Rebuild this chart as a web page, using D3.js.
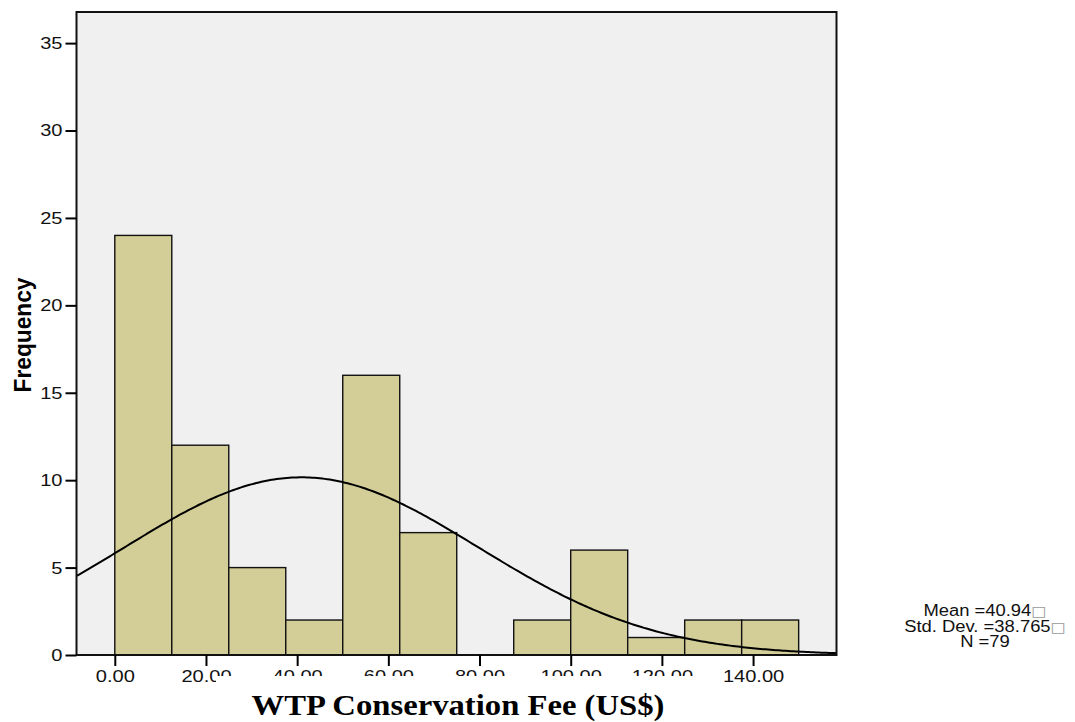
<!DOCTYPE html>
<html>
<head>
<meta charset="utf-8">
<script src="https://cdn.jsdelivr.net/npm/d3@7"></script>
<style>
  html, body { margin: 0; padding: 0; background: #fff; }
  svg { display: block; }
</style>
</head>
<body>
<div id="graf"></div>
<script>
// histogram bins (width 12.5)
const binStarts = [0, 12.5, 25, 37.5, 50, 62.5, 75, 87.5, 100, 112.5, 125, 137.5]
const counts = [24, 12, 5, 2, 16, 7, 0, 2, 6, 1, 2, 2]
const binWidth = 12.5

// summary stats shown in the legend
const mean = 40.94
const stdDev = 38.765
const n = 79

const xTicks = [0, 20, 40, 60, 80, 100, 120, 140]
const yTicks = [0, 5, 10, 15, 20, 25, 30, 35]
const statLines = ["Mean =40.94", "Std. Dev. =38.765", "N =79"]

const width = 1075
const height = 722
const margin = {top: 12, right: 238.5, bottom: 67, left: 76.5}

const data = binStarts.map((s, i) => ({x0: s, x1: s + binWidth, count: counts[i]}))

const x = d3.scaleLinear()
    .domain([-8.4, 158.3])
    .range([margin.left, width - margin.right])

const y = d3.scaleLinear()
    .domain([0, 36.78])
    .range([height - margin.bottom, margin.top])

const svg = d3.create("svg")
    .attr("width", width)
    .attr("height", height)
    .attr("viewBox", [0, 0, width, height])

// the source picture is a bit wider than tall, so the texts look stretched
const stretch = (sel, k) => sel.each(function() {
  const w = this.getComputedTextLength()
  d3.select(this).attr("textLength", w * k).attr("lengthAdjust", "spacingAndGlyphs")
})

// plot background
svg.append("rect")
    .attr("x", margin.left)
    .attr("y", margin.top)
    .attr("width", x.range()[1] - x.range()[0])
    .attr("height", y.range()[0] - y.range()[1])
    .attr("fill", "#f0f0f0")

svg.append("clipPath")
    .attr("id", "plot-clip")
  .append("rect")
    .attr("x", margin.left)
    .attr("y", margin.top)
    .attr("width", x.range()[1] - x.range()[0])
    .attr("height", y.range()[0] - y.range()[1])

// bars
svg.append("g")
  .selectAll("rect")
  .data(data.filter(d => d.count > 0))
  .join("rect")
    .attr("x", d => x(d.x0))
    .attr("y", d => y(d.count))
    .attr("width", d => x(d.x1) - x(d.x0))
    .attr("height", d => y(0) - y(d.count))
    .attr("fill", "#d3ce97")
    .attr("stroke", "#111")
    .attr("stroke-width", 1.4)

// fitted normal curve
const pdf = v => n * binWidth / (stdDev * Math.sqrt(2 * Math.PI)) *
    Math.exp(-0.5 * ((v - mean) / stdDev) ** 2)
const [d0, d1] = x.domain()
const curveXs = d3.range(0, 301).map(i => d0 + (d1 - d0) * i / 300)

svg.append("path")
    .attr("clip-path", "url(#plot-clip)")
    .attr("fill", "none")
    .attr("stroke", "#000")
    .attr("stroke-width", 2)
    .attr("d", d3.line().x(v => x(v)).y(v => y(pdf(v)))(curveXs))

// frame
svg.append("rect")
    .attr("x", margin.left)
    .attr("y", margin.top)
    .attr("width", x.range()[1] - x.range()[0])
    .attr("height", y.range()[0] - y.range()[1])
    .attr("fill", "none")
    .attr("stroke", "#111")
    .attr("stroke-width", 2)

const xAxis = g => g
    .attr("transform", `translate(0,${height - margin.bottom})`)
    .call(d3.axisBottom(x).tickValues(xTicks).tickFormat(d3.format(".2f")).tickSize(11).tickPadding(4))
    .call(g => g.select(".domain").remove())
    .call(g => g.selectAll(".tick line").attr("stroke", "#000").attr("stroke-width", 2))
    .call(g => g.selectAll(".tick text")
        .attr("font-family", "Liberation Sans, Arial, sans-serif")
        .attr("font-size", 17)
        .attr("fill", "#111"))

const yAxis = g => g
    .attr("transform", `translate(${margin.left},0)`)
    .call(d3.axisLeft(y).tickValues(yTicks).tickSize(11).tickPadding(3))
    .call(g => g.select(".domain").remove())
    .call(g => g.selectAll(".tick line").attr("stroke", "#000").attr("stroke-width", 2))
    .call(g => g.selectAll(".tick text")
        .attr("font-family", "Liberation Sans, Arial, sans-serif")
        .attr("font-size", 17)
        .attr("fill", "#111"))

const gx = svg.append("g").call(xAxis)
const gy = svg.append("g").call(yAxis)

// y title
svg.append("text")
    .attr("transform", "translate(31,335) rotate(-90)")
    .attr("text-anchor", "middle")
    .attr("font-family", "Liberation Sans, Arial, sans-serif")
    .attr("font-weight", "bold")
    .attr("font-size", 23)
    .attr("textLength", 115)
    .attr("lengthAdjust", "spacingAndGlyphs")
    .text("Frequency")

// x title sits on a white box that hides part of the tick labels
svg.append("rect")
    .attr("x", 216)
    .attr("y", 676)
    .attr("width", 486)
    .attr("height", 46)
    .attr("fill", "#fff")

svg.append("text")
    .attr("x", 458)
    .attr("y", 715)
    .attr("text-anchor", "middle")
    .attr("font-family", "Liberation Serif, Times New Roman, serif")
    .attr("font-weight", "bold")
    .attr("font-size", 30)
    .attr("textLength", 413)
    .attr("lengthAdjust", "spacingAndGlyphs")
    .text("WTP Conservation Fee (US$)")

// stats legend
const legend = svg.append("g")
    .attr("font-family", "Liberation Sans, Arial, sans-serif")
    .attr("font-size", 16)
    .attr("fill", "#111")
    .attr("text-anchor", "middle")

statLines.forEach((t, i) => {
  const txt = legend.append("text")
      .attr("x", 985)
      .attr("y", 616 + i * 15.5)
  txt.append("tspan").text(t)
  if (i < 2) {
    txt.append("tspan")
        .attr("fill", "#999")
        .attr("font-family", "DejaVu Sans, sans-serif")
        .attr("font-size", 14)
        .text("\u25A1")
  }
})

d3.select("#graf").append(() => svg.node())

stretch(gx.selectAll(".tick text"), 1.18)
stretch(gy.selectAll(".tick text"), 1.18)
stretch(legend.selectAll("text"), 1.15)
</script>
</body>
</html>
